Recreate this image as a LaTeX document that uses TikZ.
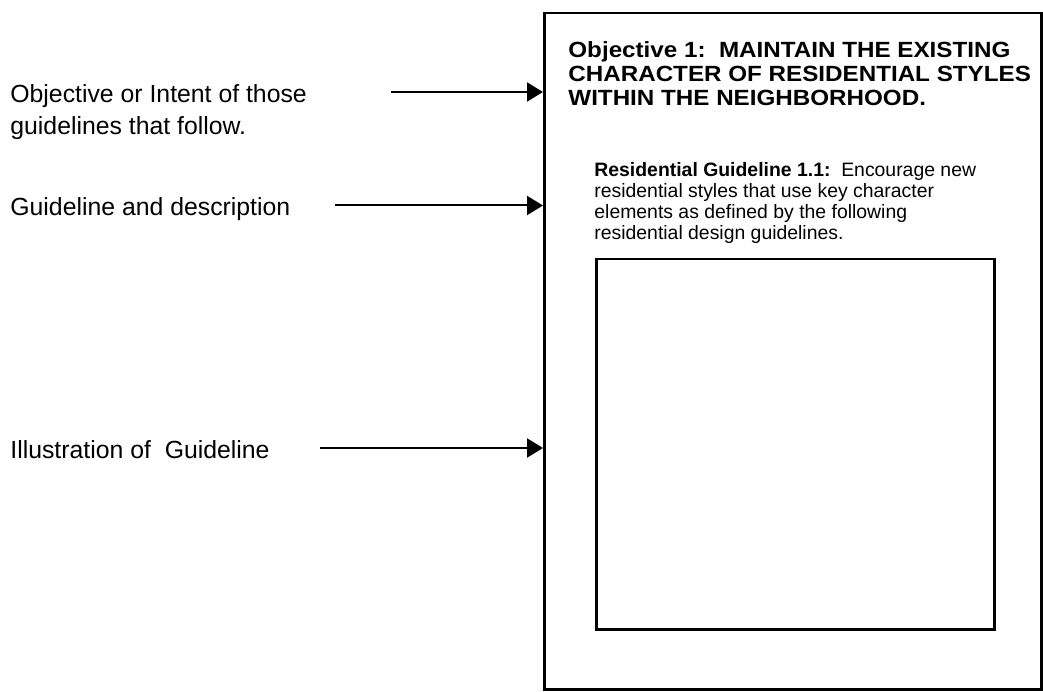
\documentclass[tikz,border=0pt]{standalone}
\usepackage{fontspec}
\setmainfont{Liberation Sans}
\newfontfamily\headfont[FakeStretch=1.1]{Liberation Sans}
\usetikzlibrary{shapes,arrows.meta,positioning}

\begin{document}
\begin{tikzpicture}[x=1pt, y=-1pt, thick]
        % Define block styles
        \tikzstyle{sidetext} = [inner sep=0pt, align=left, font=\fontsize{24.8}{32}\selectfont]
        \tikzstyle{headtext} = [inner sep=0pt, align=left, font=\headfont\bfseries\fontsize{22}{24}\selectfont]
        \tikzstyle{bodytext} = [inner sep=0pt, align=left, font=\fontsize{19.4}{21}\selectfont]
        \tikzstyle{pagebox} = [rectangle, draw, line width=2.5pt, inner sep=0pt, anchor=north west]
        \tikzstyle{line} = [draw, line width=2pt, -{Triangle[length=16pt, width=19pt]}]

        \useasboundingbox (0,0) rectangle (1043,692);

        % Define nodes
        \node [pagebox, minimum width=497pt, minimum height=676pt] (page) at (543,12) {};
        \node [pagebox, minimum width=398pt, minimum height=370pt] (illus) at (595,258) {};

        \node [headtext, anchor=north west] (obj1) at (568,41)
            {Objective 1:\ \ MAINTAIN THE EXISTING\\CHARACTER OF RESIDENTIAL STYLES\\WITHIN THE NEIGHBORHOOD.};
        \node [bodytext, anchor=north west] (guide) at (594,161.8)
            {\textbf{Residential Guideline 1.1:}\ \ Encourage new\\residential styles that use key character\\elements as defined by the following\\residential design guidelines.};

        \node [sidetext, anchor=north west] (objnote) at (10,84)
            {Objective or Intent of those\\guidelines that follow.};
        \node [sidetext, anchor=base west] (guidenote) at (10,216) {Guideline and description};
        \node [sidetext, anchor=base west] (illusnote) at (10,458) {Illustration of\ \ Guideline};

        \coordinate (s1) at (391,92);
        \coordinate (s2) at (335,205.5);
        \coordinate (s3) at (320,448);

        % Connect notes with the page
        \draw[line] (s1) -- (s1 -| page.west);
        \draw[line] (s2) -- (s2 -| page.west);
        \draw[line] (s3) -- (s3 -| page.west);

\end{tikzpicture}
\end{document}
